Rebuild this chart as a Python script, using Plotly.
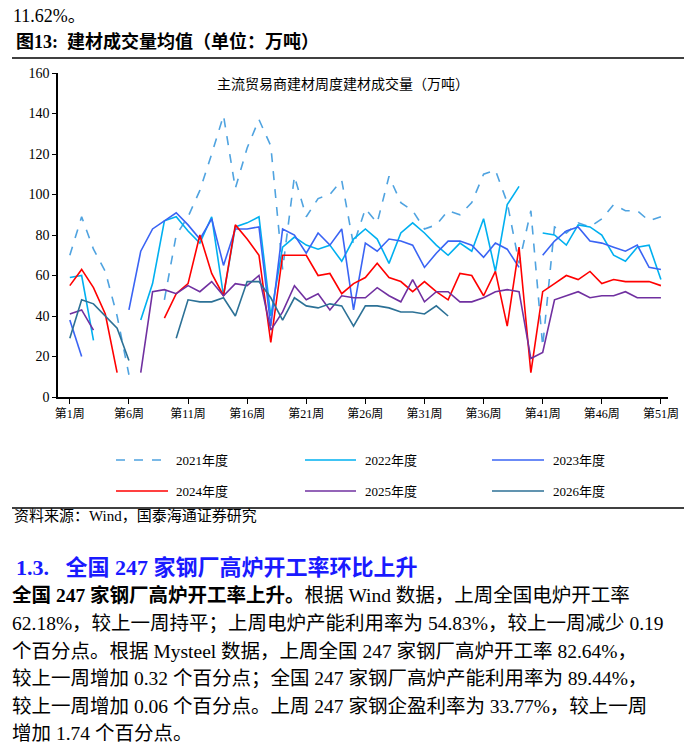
import plotly.graph_objects as go

# weekly trade volume (10k tonnes), week 1..51, None = no data
weeks = list(range(1, 52))
y2021 = [70, 89, 73, 62, 40, 11, None, None, 48, 80, 89, 102, 120, 139, 103, 123, 137, 124,
         63, 109, 89, 98, 100, 107, 75, 93, 86, 109, 96, 92, 83, 85, 92, 90,
         96, 110, 112, 96, 66, 92, 25, 84, 81, 86, 84, 88, 95, 92, 92, 87, 89]
y2022 = [59, 60, 28, None, None, None, 38, 56, 87, 89, 82, 76, 89, 50, 84, 86, 89, 40,
         74, 79, 75, 73, 75, 67, 78, 83, 78, 66, 81, 86, 81, 75, 70, 76,
         72, 88, 62, 95, 104, None, 81, 80, 75, 85, 84, 80, 70, 67, 74, 75, 58]
y2023 = [38, 20, None, None, None, 43, 72, 83, 87, 91, 85, 78, 88, 65, 83, 83, 84, 35,
         83, 80, 71, 81, 75, 83, 43, 76, 72, 78, 77, 75, 64, 71, 77, 77,
         75, 69, 76, 73, 64, None, 70, 77, 82, 84, 77, 76, 74, 72, 75, 64, 63]
y2024 = [55, 63, 54, 41, 12, None, None, None, 39, 51, 56, 80, 61, 50, 85, 78, 70, 27,
         70, 70, 70, 60, 61, 51, 56, 59, 66, 59, 57, 52, 57, 52, 48, 61,
         60, 50, 62, 35, 74, 12, 52, 56, 60, 58, 62, 56, 58, 57, 57, 57, 55]
y2025 = [41, 43, 33, None, None, None, 12, 52, 53, 51, 55, 52, 57, 50, 56, 55, 60, 33,
         42, 55, 48, 51, 43, 50, 49, 49, 54, 50, 47, 58, 47, 52, 52, 47,
         47, 49, 52, 53, 52, 19, 22, 48, 50, 52, 49, 50, 50, 52, 49, 49, 49]
y2026 = [29, 48, 46, 40, 34, 18, None, None, None, 29, 48, 47, 47, 49, 40, 57, 57, 49,
         38, 49, 45, 44, 46, 45, 35, 45, 45, 44, 42, 42, 41, 45, 40]

names = ["2021年度", "2022年度", "2023年度", "2024年度", "2025年度", "2026年度"]
tick_weeks = [1, 6, 11, 16, 21, 26, 31, 36, 41, 46, 51]
tick_text = ["第%d周" % w for w in tick_weeks]

colors = ["#4FA3E0", "#00B0F0", "#3A64F4", "#FF0000", "#7030A0", "#2C7196"]
series = [y2021, y2022, y2023, y2024, y2025, y2026]

SERIF = "Liberation Serif, Noto Sans CJK SC"
W, H = 692, 744
L, R, T, B = 50, 660, 65, 389


def py(p):
    # pixel row -> paper y
    return (B - p) / (B - T)


def px(p):
    return (p - L) / (R - L)


fig = go.Figure()
for name, ys, c in zip(names, series, colors):
    fig.add_trace(go.Scatter(
        x=weeks[:len(ys)], y=ys, name=name, mode="lines",
        line=dict(color=c, width=1.6, dash="dash" if name == "2021年度" else "solid"),
        connectgaps=False,
    ))

fig.update_layout(
    width=W, height=H,
    margin=dict(l=L, r=W - R, t=T, b=H - B),
    paper_bgcolor="white", plot_bgcolor="white",
    font=dict(family=SERIF, color="black"),
    showlegend=False,
    xaxis=dict(range=[0, 51.6], tickvals=tick_weeks, ticktext=tick_text,
               showline=True, linecolor="black", linewidth=1.5, ticks="outside",
               ticklen=5, tickcolor="black", showgrid=False, zeroline=False,
               tickfont=dict(size=12, family=SERIF)),
    yaxis=dict(range=[0, 160], dtick=20, showline=True, linecolor="black", linewidth=1.5,
               ticks="outside", ticklen=4, tickcolor="black", showgrid=False,
               zeroline=False, tickfont=dict(size=14, family=SERIF)),
)

# legend drawn by hand, 3 columns x 2 rows
leg_cols = [(108, 160, 166), (297, 348, 355), (484, 536, 543)]
leg_rows = [452, 483]
for i, (name, c) in enumerate(zip(names, colors)):
    xa, xb, xt = leg_cols[i % 3]
    yy = leg_rows[i // 3]
    fig.add_shape(type="line", xref="paper", yref="paper", x0=px(xa), x1=px(xb),
                  y0=py(yy), y1=py(yy),
                  line=dict(color=c, width=1.6, dash="dash" if i == 0 else "solid"))
    fig.add_annotation(x=px(xt), y=py(yy), xref="paper", yref="paper", text=name,
                       showarrow=False, xanchor="left", yanchor="middle",
                       font=dict(size=13, family=SERIF))

annots = [
    (3, 8, "11.62%。", 18, "black"),
    (6, 33, "<b>图13:  建材成交量均值（单位：万吨）</b>", 18, "black"),
    (4, 508, "资料来源：Wind，国泰海通证券研究", 15, "black"),
    (6, 559, "<b>1.3.   全国 247 家钢厂高炉开工率环比上升</b>", 22, "#1a1aff"),
    (2, 587, "<b>全国 247 家钢厂高炉开工率上升。</b>根据 Wind 数据，上周全国电炉开工率", 19.5, "black"),
    (2, 615, "62.18%，较上一周持平；上周电炉产能利用率为 54.83%，较上一周减少 0.19", 19.5, "black"),
    (2, 643, "个百分点。根据 Mysteel 数据，上周全国 247 家钢厂高炉开工率 82.64%，", 19.5, "black"),
    (2, 670, "较上一周增加 0.32 个百分点；全国 247 家钢厂高炉产能利用率为 89.44%，", 19.5, "black"),
    (2, 698, "较上一周增加 0.06 个百分点。上周 247 家钢企盈利率为 33.77%，较上一周", 19.5, "black"),
    (2, 725, "增加 1.74 个百分点。", 19.5, "black"),
]
for x0, y0, txt, sz, col in annots:
    fig.add_annotation(x=px(x0), y=py(y0), xref="paper", yref="paper", text=txt,
                       showarrow=False, xanchor="left", yanchor="middle",
                       font=dict(size=sz, color=col, family=SERIF))

fig.add_annotation(x=px(335), y=py(66), xref="paper", yref="paper",
                   text="主流贸易商建材周度建材成交量（万吨）", showarrow=False,
                   font=dict(size=14, family=SERIF))

for yy in (50, 500):
    fig.add_shape(type="line", xref="paper", yref="paper", x0=px(4), x1=px(688),
                  y0=py(yy), y1=py(yy), line=dict(color="black", width=1.3))

fig.write_html("out.html")
